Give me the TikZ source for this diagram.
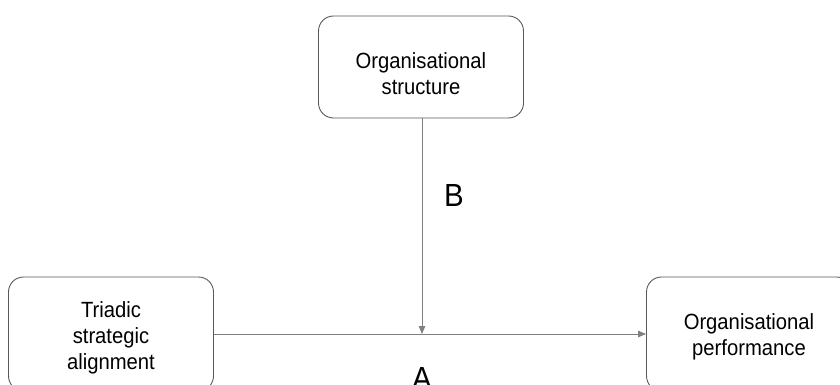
\documentclass[tikz,border=0pt]{standalone}
\usepackage{fontspec}
\setmainfont[FakeStretch=0.92]{Liberation Sans}
\usetikzlibrary{arrows.meta,positioning}
\tikzset{
  box/.style={draw=black!65, rounded corners=15pt, align=center, inner sep=4pt, minimum width=205pt, minimum height=114pt, line width=0.9pt, font=\fontsize{22}{26}\selectfont},
  arrow/.style={-{Triangle[length=8pt,width=6.5pt]}, draw=black!50, line width=0.9pt},
  pathlabel/.style={font=\fontsize{32}{34}\selectfont, inner sep=0pt}
}

\begin{document}
\begin{tikzpicture}[x=1pt,y=-1pt]
\useasboundingbox (0,0) rectangle (840,385);
\clip (0,0) rectangle (840,385);
\node[box, minimum height=102pt, text height=55pt] (struct) at (421,67) {Organisational\\structure};
\node[box, text height=75pt] (align) at (111,334) {Triadic\\strategic\\alignment};
\node[box, text height=48pt] (perf) at (749,334) {Organisational\\performance};
\coordinate (join) at (422,334);
\draw[arrow] (align.east |- join) -- (perf.west |- join);
\draw[arrow] (struct.south -| join) -- (join);
\node[pathlabel] (b) at (454,195) {B};
\node[pathlabel] (a) at (422,378) {A};
\end{tikzpicture}
\end{document}
